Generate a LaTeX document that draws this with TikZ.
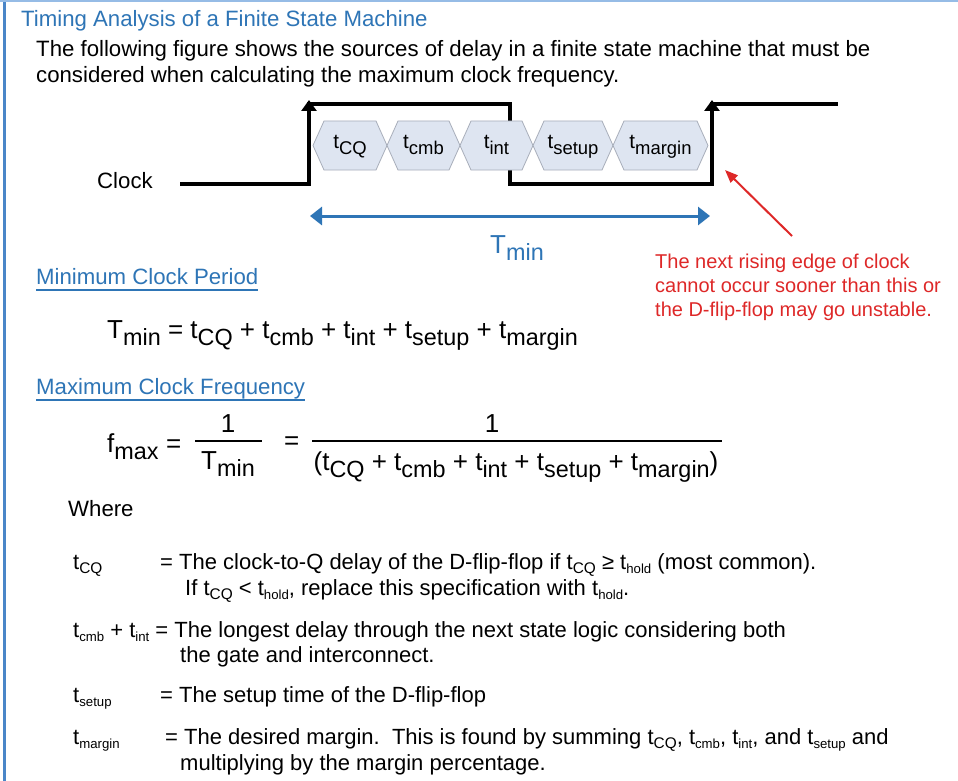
\documentclass[tikz,border=0pt]{standalone}
\usepackage{fontspec}
\setmainfont{Liberation Sans}
\usepackage{graphicx}
\usetikzlibrary{arrows.meta,calc}
\definecolor{tblue}{RGB}{46,117,182}
\definecolor{tred}{RGB}{222,40,40}
\definecolor{hexfill}{RGB}{222,229,241}
\definecolor{hexdraw}{RGB}{168,174,186}
\definecolor{leftblue}{RGB}{74,134,200}
\definecolor{topblue}{RGB}{150,188,230}
\newcommand\lo[1]{\raisebox{-0.3em}{\scalebox{0.9}{#1}}}
\newcommand\los[1]{\raisebox{-0.22em}{\scalebox{0.7}{#1}}}
\newcommand\lss[1]{\raisebox{-0.2em}{\scalebox{0.6}{#1}}}
\begin{document}
\begin{tikzpicture}[x=1pt,y=-1pt,
  txt/.style={anchor=base west,inner sep=0pt,font=\fontsize{22.2}{26}\selectfont},
  redtxt/.style={anchor=base west,inner sep=0pt,text=tred,font=\fontsize{20}{24}\selectfont},
  eq/.style={anchor=base,inner sep=0pt,font=\fontsize{26}{30}\selectfont},
  hexlab/.style={anchor=base,inner sep=0pt,font=\fontsize{20.5}{24}\selectfont},
  def/.style={anchor=base west,inner sep=0pt,font=\fontsize{22}{25}\selectfont},
  clk/.style={line width=3.2pt,black},
  hex/.style={fill=hexfill,draw=hexdraw,line width=0.8pt},
  uline/.style={tblue,line width=1.2pt}]
\useasboundingbox (0,0) rectangle (958,781);
\fill[white] (0,0) rectangle (958,781);
\draw[leftblue,line width=3pt] (4.5,0) -- (4.5,781);
\draw[topblue,line width=2pt] (0,1) -- (958,1);

% header text
\node[txt,text=tblue] (title) at (21,27) {Timing Analysis of a Finite State Machine};
\node[txt] (intro1) at (36,57) {The following figure shows the sources of delay in a finite state machine that must be};
\node[txt] (intro2) at (36,83) {considered when calculating the maximum clock frequency.};

% clock waveform
\coordinate (c0) at (180,184);
\coordinate (r1b) at (309,184);
\coordinate (r1t) at (309,104);
\coordinate (f1t) at (510,104);
\coordinate (f1b) at (510,184);
\coordinate (r2b) at (712,184);
\coordinate (r2t) at (712,104);
\coordinate (c1) at (838,104);
\coordinate (a1) at (309,100);
\coordinate (a2) at (712,100);
\draw[clk,line join=miter] (c0) -- (r1b) -- (r1t) -- (f1t) -- (f1b) -- (r2b) -- (r2t) -- (c1);
\draw[clk,-{Triangle[width=15pt,length=11pt]}] (r1b) -- (a1);
\draw[clk,-{Triangle[width=15pt,length=11pt]}] (r2b) -- (a2);
\node[txt] (clock) at (97,188) {Clock};

% hexagons
\foreach \a/\b in {313/387,387/460,460/533,533/613,613/708}{
  \draw[hex] (\a,145.5) -- (\a+11,121) -- (\b-11,121) -- (\b,145.5) -- (\b-11,170) -- (\a+11,170) -- cycle;
}
\node[hexlab] (hcq) at (350,148) {t\lo{CQ}};
\node[hexlab] (hcmb) at (423.5,148) {t\lo{cmb}};
\node[hexlab] (hint) at (496.5,148) {t\lo{int}};
\node[hexlab] (hsetup) at (573,148) {t\lo{setup}};
\node[hexlab] (hmargin) at (660.5,148) {t\lo{margin}};

% Tmin arrow
\coordinate (tl) at (310,216);
\coordinate (tr) at (710,216);
\draw[tblue,line width=3pt,{Triangle[width=18pt,length=12pt]}-{Triangle[width=18pt,length=12pt]}] (tl) -- (tr);
\node[anchor=base,inner sep=0pt,text=tblue,font=\fontsize{26}{30}\selectfont] (tminlab) at (517,253) {T\lo{min}};

% red note
\coordinate (rs) at (792,236);
\coordinate (re) at (725,170);
\draw[tred,line width=2pt,-{Triangle[width=10pt,length=13pt]}] (rs) -- (re);
\node[redtxt] (n1) at (655,268) {The next rising edge of clock};
\node[redtxt] (n2) at (655,292) {cannot occur sooner than this or};
\node[redtxt] (n3) at (655,316) {the D-flip-flop may go unstable.};

% Minimum clock period
\node[txt,text=tblue] (minh) at (36,284) {Minimum Clock Period};
\draw[uline] ($(minh.base west)+(0,6)$) -- ($(minh.base east)+(0,6)$);
\node[eq,anchor=base west] (tmineq) at (107,338) {T\lo{min} = t\lo{CQ} + t\lo{cmb} + t\lo{int} + t\lo{setup} + t\lo{margin}};

% Maximum clock frequency
\node[txt,text=tblue] (maxh) at (36,394) {Maximum Clock Frequency};
\draw[uline] ($(maxh.base west)+(0,6)$) -- ($(maxh.base east)+(0,6)$);
\node[eq,anchor=base west] (fmax) at (107,452) {f\lo{max}};
\node[eq,anchor=base west] (eq1) at (166,452) {=};
\node[eq] (num1) at (228,432) {1};
\coordinate (b1l) at (195,441);
\coordinate (b1r) at (262,441);
\draw[line width=1.5pt] (b1l) -- (b1r);
\node[eq] (den1) at (228,469) {T\lo{min}};
\node[eq,anchor=base west] (eq2) at (284,449) {=};
\node[eq] (num2) at (492,432) {1};
\coordinate (b2l) at (312,441);
\coordinate (b2r) at (722,441);
\draw[line width=1.5pt] (b2l) -- (b2r);
\node[eq] (den2) at (516,470) {(t\lo{CQ} + t\lo{cmb} + t\lo{int} + t\lo{setup} + t\lo{margin})};

% definitions
\node[txt] (where) at (68,516) {Where};
\node[def] (d1a) at (73,569) {t\los{CQ}};
\node[def] (d1b) at (160,569) {= The clock-to-Q delay of the D-flip-flop if t\los{CQ} ≥ t\lss{hold} (most common).};
\node[def] (d1c) at (185,595) {If t\los{CQ} < t\lss{hold}, replace this specification with t\lss{hold}.};
\node[def] (d2a) at (73,637) {t\lss{cmb} + t\lss{int} = The longest delay through the next state logic considering both};
\node[def] (d2b) at (180,662) {the gate and interconnect.};
\node[def] (d3a) at (73,702) {t\lss{setup}};
\node[def] (d3b) at (160,702) {= The setup time of the D-flip-flop};
\node[def] (d4a) at (73,744) {t\lss{margin}};
\node[def] (d4b) at (165,744) {= The desired margin.\ \ This is found by summing t\los{CQ}, t\lss{cmb}, t\lss{int}, and t\lss{setup} and};
\node[def] (d4c) at (180,770) {multiplying by the margin percentage.};
\end{tikzpicture}
\end{document}
